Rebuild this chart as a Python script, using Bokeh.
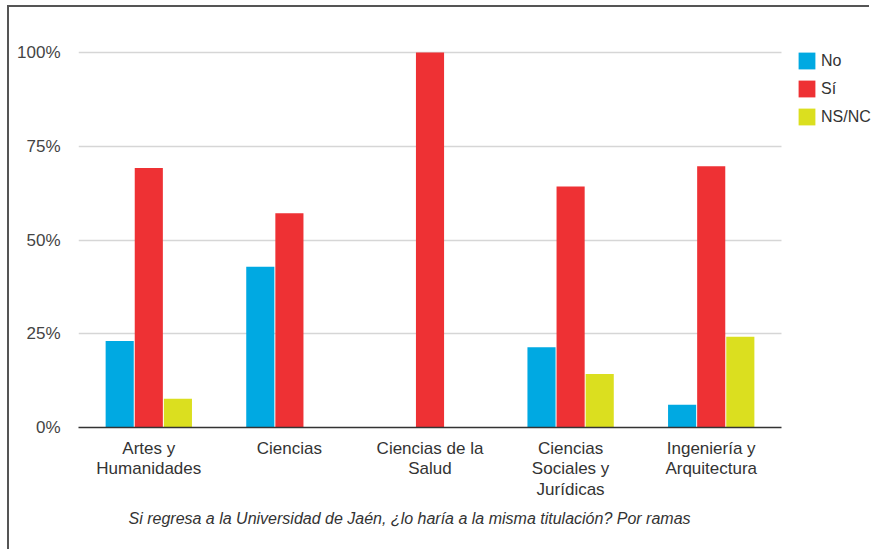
from bokeh.plotting import figure
from bokeh.models import (ColumnDataSource, Range1d, FixedTicker,
                          NumeralTickFormatter, Legend, LegendItem, Title)
from bokeh.transform import dodge
from bokeh.embed import file_html
from bokeh.resources import INLINE

categories = ["Artes y\nHumanidades", "Ciencias", "Ciencias de la\nSalud",
              "Ciencias\nSociales y\nJurídicas", "Ingeniería y\nArquitectura"]
no_vals = [0.231, 0.4286, 0.0, 0.214, 0.061]
si_vals = [0.692, 0.5714, 1.0, 0.643, 0.697]
nsnc_vals = [0.077, 0.0, 0.0, 0.143, 0.242]
series_names = ["No", "Sí", "NS/NC"]
colors = ["#00A9E2", "#EE3134", "#DBDF1F"]
y_ticks = [0, 0.25, 0.5, 0.75, 1.0]
caption = "Si regresa a la Universidad de Jaén, ¿lo haría a la misma titulación? Por ramas"

pos = list(range(len(categories)))
src = ColumnDataSource(dict(x=pos, no=no_vals, si=si_vals, nsnc=nsnc_vals))

FONT = "Liberation Sans"
n = len(categories)

p = figure(x_range=Range1d(-0.5, n - 0.5 + 0.64), y_range=Range1d(0, 1.032),
           width=862, height=544, output_backend="svg", toolbar_location=None,
           min_border_left=69, min_border_right=0, min_border_top=33,
           min_border_bottom=124)
p.styles = {"border-top": "2px solid #555555", "border-left": "2px solid #555555",
            "margin-left": "7px", "margin-top": "5px"}
p.outline_line_color = None
p.background_fill_color = "white"
p.border_fill_color = "white"

renderers = []
for col, off, c in zip(["no", "si", "nsnc"], [-0.207, 0.0, 0.207], colors):
    r = p.vbar(x=dodge("x", off), top=col, width=0.2,
               source=src, fill_color=c, line_color=None)
    renderers.append(r)

# axes
p.yaxis.ticker = FixedTicker(ticks=y_ticks)
p.yaxis.formatter = NumeralTickFormatter(format="0%")
p.yaxis.axis_line_color = None
p.yaxis.major_tick_line_color = None
p.yaxis.minor_tick_line_color = None
p.yaxis.major_tick_out = 0
p.yaxis.major_tick_in = 0
p.yaxis.major_label_standoff = 18
p.yaxis.major_label_text_font = FONT
p.yaxis.major_label_text_font_size = "17px"
p.yaxis.major_label_text_color = "#444444"

p.xaxis.ticker = FixedTicker(ticks=pos)
p.xaxis.major_label_overrides = {i: c for i, c in zip(pos, categories)}
p.xaxis.bounds = (-0.5, n - 0.5)
p.xaxis.axis_line_color = "#333333"
p.xaxis.axis_line_width = 1.5
p.xaxis.major_tick_line_color = None
p.xaxis.minor_tick_line_color = None
p.xaxis.major_tick_out = 0
p.xaxis.major_tick_in = 0
p.xaxis.major_label_standoff = 11
p.xaxis.major_label_text_font = FONT
p.xaxis.major_label_text_font_size = "17px"
p.xaxis.major_label_text_color = "#333333"
p.xaxis.major_label_text_line_height = 1.08

p.xgrid.grid_line_color = None
p.ygrid.grid_line_color = "#D6D6D6"
p.ygrid.grid_line_width = 1.5
p.ygrid.cross_bounds = (-0.5, n - 0.5)

legend = Legend(items=[LegendItem(label=s, renderers=[r]) for s, r in zip(series_names, renderers)],
                location=(718, 300), padding=0, margin=0, spacing=7,
                glyph_width=21, glyph_height=21, label_standoff=4,
                border_line_color=None, background_fill_alpha=0,
                label_text_font=FONT, label_text_font_size="16px",
                label_text_color="#333333")
p.add_layout(legend)

p.add_layout(Title(text=caption, align="left", offset=50, standoff=12,
                   text_font=FONT, text_font_size="16px", text_font_style="italic",
                   text_color="#333333"), "below")

open("out.html", "w").write(file_html(p, INLINE))
